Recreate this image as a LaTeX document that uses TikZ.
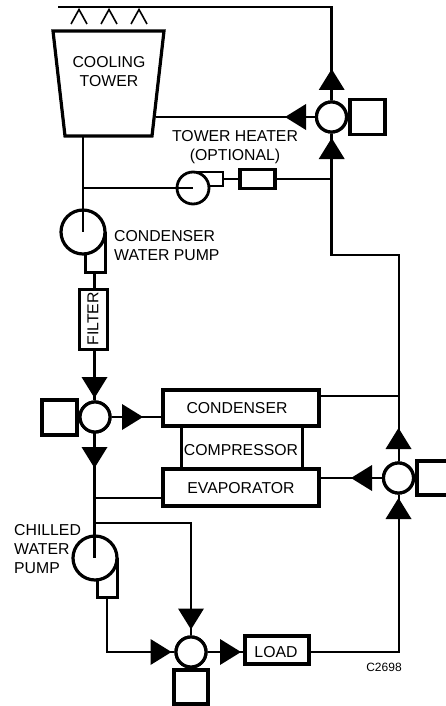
\documentclass[tikz,border=0pt]{standalone}
\usepackage{fontspec}
\setmainfont{Liberation Sans}
\begin{document}
\begin{tikzpicture}[x=1pt,y=-1pt,
  pipe/.style={line width=2.5pt,line join=miter},
  box/.style={draw,line width=3.2pt,fill=white,inner sep=0pt,font=\fontsize{15.8}{19}\selectfont,align=center},
  valve/.style={draw,circle,line width=3.2pt,fill=white,minimum size=30pt,inner sep=0pt},
  actuator/.style={draw,line width=3.2pt,fill=white,minimum size=34pt,inner sep=0pt},
  lbl/.style={inner sep=0pt,font=\fontsize{15.8}{19}\selectfont,align=center},
  lbll/.style={inner sep=0pt,font=\fontsize{15.8}{19}\selectfont,align=left,anchor=west},
  tri/.pic={\fill (11,0) -- (-10,-13) -- (-10,13) -- cycle;}
]
\useasboundingbox (0,0) rectangle (446,706);

% tower
\coordinate (towerbot) at (83,136);
\coordinate (towerout) at (156,117);
\draw[line width=3.2pt,line join=miter] (53,31) -- (164,31) -- (152,136) -- (65,136) -- cycle;
\node[lbl] (towertext) at (109,72) {COOLING\\TOWER};
\draw[line width=1.6pt] (71,24) -- (79,9.5) -- (87,24);
\draw[line width=1.6pt] (101,24) -- (109,9.5) -- (117,24);
\draw[line width=1.6pt] (131,24) -- (139,9.5) -- (147,24);

% nodes
\coordinate (topstart) at (58,7);
\coordinate (topcorner) at (331.7,7);
\node[valve] (v1) at (331.5,117) {};
\node[actuator,minimum width=35pt,minimum height=35pt] (a1) at (367.5,117) {};
\node[valve] (v2) at (95,417) {};
\node[actuator,minimum width=35pt,minimum height=35pt] (a2) at (59.5,417.5) {};
\node[valve] (v3) at (398.5,478) {};
\node[actuator,minimum width=40pt,minimum height=34pt] (a3) at (437,478) {};
\node[valve] (v4) at (191,652) {};
\node[actuator,minimum width=34pt,minimum height=34pt] (a4) at (191,687) {};

\node[box,minimum width=121pt,minimum height=42pt] (comp) at (242,447.5) {};
\node[box,minimum width=156pt,minimum height=36pt] (cond) at (241,408) {};
\node[box,minimum width=156pt,minimum height=37pt] (evap) at (241,487.5) {};
\node[box,minimum width=64pt,minimum height=28pt] (load) at (277,650) {};
\node[box,minimum width=28pt,minimum height=60pt] (filter) at (93.5,319.5) {};
\node[box,minimum width=35pt,minimum height=19pt] (heater) at (257.5,179) {};

% pipes
\draw[pipe] (topstart) -- (topcorner) -- (v1.north -| topcorner);
\draw[pipe] (v1) -- (towerout);
\coordinate (j1) at (331.7,179);
\coordinate (j2) at (331.7,255);
\coordinate (j3) at (399,255);
\coordinate (j4) at (399,396);
\draw[pipe] (v1.south -| j1) -- (j1) -- (j2) -- (j3) -- (j4) -- (v3.north -| j4);
\draw[pipe] (j4) -- (cond.east |- j4);
\draw[pipe] (v3) -- (evap.east |- v3);
\coordinate (j5) at (399,652);
\draw[pipe] (v3.south -| j5) -- (j5) -- (load.east |- j5);
\draw[pipe] (heater) -- (j1);
\draw[pipe] (v4) -- (load.west |- v4);
\coordinate (f1) at (94.3,350);
\coordinate (f2) at (94.3,400);
\draw[pipe] (f1) -- (f2);
\draw[pipe] (v2) -- (cond.west |- v2);

% condenser pump
\coordinate (cpcent) at (83,232);
\draw[line width=3pt,fill=white] (85,250) -- (85,272) -- (105,272) -- (105,232);
\draw[line width=3.2pt,fill=white] (cpcent) circle (22);
\draw[pipe] (towerbot) -- (cpcent);
\coordinate (f0) at (94.3,273);
\draw[pipe] (f0) -- (filter.north -| f0);

% heater pump
\coordinate (hpcent) at (193,188);
\draw[line width=2.8pt] (193,172) -- (223,172) -- (223,186) -- (208,186);
\draw[line width=2.8pt,fill=white] (hpcent) circle (16);
\draw[pipe] (83,188) -- (hpcent);
\draw[pipe] (223,179) -- (heater.west);

% chilled water pump
\coordinate (chcent) at (95,558);
\draw[line width=3pt,fill=white] (97,575) -- (97,597) -- (117,597) -- (117,558);
\draw[line width=3.2pt,fill=white] (chcent) circle (22);
\coordinate (c0) at (94.5,430);
\draw[pipe] (c0) -- (c0 |- chcent);
\draw[pipe] (94.5,498) -- (evap.west |- 94.5,498);
\draw[pipe] (94.5,523) -- (191,523) -- (v4.north);
\draw[pipe] (107,598) -- (107,652) -- (v4.west);

% redraw valves above pipes
\node[valve] at (v1) {};
\node[valve] at (v2) {};
\node[valve] at (v3) {};
\node[valve] at (v4) {};
\node[box,minimum width=35pt,minimum height=19pt] at (heater) {};
\node[box,minimum width=28pt,minimum height=60pt] at (filter) {};

% triangles
\pic[rotate=90] at (331.7,80) {tri};
\pic[rotate=180] at (296,117) {tri};
\pic[rotate=90] at (331.7,149) {tri};
\pic[rotate=-90] at (94.5,387) {tri};
\pic at (132,417) {tri};
\pic[rotate=-90] at (94.5,457) {tri};
\pic[rotate=90] at (398.5,439) {tri};
\pic[rotate=180] at (362,478) {tri};
\pic[rotate=90] at (398.5,509) {tri};
\pic[rotate=-90] at (191,618.5) {tri};
\pic at (160.5,652) {tri};
\pic at (230,652) {tri};

% labels
\node[lbl] (tl1) at (235,147.5) {TOWER HEATER\\(OPTIONAL)};
\node[lbll] (tl2) at (114,246) {CONDENSER\\WATER PUMP};
\node[lbl] (tl3) at (237,408) {CONDENSER};
\node[lbl] (tl4) at (241,450) {COMPRESSOR};
\node[lbl] (tl5) at (241,488) {EVAPORATOR};
\node[lbl] (tl6) at (276,652) {LOAD};
\node[lbll] (tl7) at (14,549) {CHILLED\\WATER\\PUMP};
\node[lbl,rotate=90] (tl8) at (93,319) {FILTER};
\node[lbl,font=\fontsize{12}{14}\selectfont] (tl9) at (384,667) {C2698};
\end{tikzpicture}
\end{document}
